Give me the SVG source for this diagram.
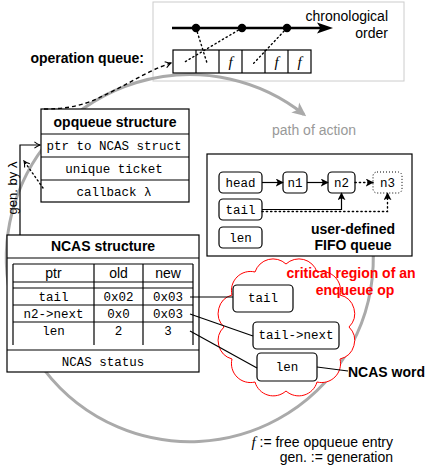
<svg xmlns="http://www.w3.org/2000/svg" width="428" height="471" viewBox="0 0 428 471">
<style>
.sans{font-family:"Liberation Sans",Arial,sans-serif;font-size:14px;fill:#000}
.b{font-weight:bold}
.mono{font-family:"Liberation Mono","DejaVu Sans Mono",monospace;font-size:12.5px;fill:#000}
.box{fill:#fff;stroke:#000;stroke-width:1.2}
.rbox{fill:#fff;stroke:#000;stroke-width:1.2}
.ln{fill:none;stroke:#000;stroke-width:1.2}
.dot{fill:none;stroke:#000;stroke-width:1.4;stroke-dasharray:1.3 3;stroke-linecap:round}
.red{fill:#f00;font-weight:bold}
.mid{text-anchor:middle}
</style>
<defs>
<marker id="tri" viewBox="0 0 10 10" refX="9" refY="5" markerWidth="8" markerHeight="8" markerUnits="userSpaceOnUse" orient="auto">
<path d="M0,0 L10,5 L0,10 L2.5,5 Z" fill="#000"/>
</marker>
<marker id="open" viewBox="0 0 10 10" refX="9" refY="5" markerWidth="8" markerHeight="8" markerUnits="userSpaceOnUse" orient="auto">
<path d="M2,1 Q6,4 9,5 Q6,6 2,9" fill="none" stroke="#000" stroke-width="1.3"/>
</marker>
<marker id="gray" viewBox="0 0 10 10" refX="8" refY="5" markerWidth="14" markerHeight="14" markerUnits="userSpaceOnUse" orient="auto">
<path d="M0,0.5 L10,5 L0,9.5 L2.5,5 Z" fill="#aaa"/>
</marker>
</defs>

<g id="queue-frame">
<rect x="153" y="2" width="251" height="79" fill="#fff" stroke="#ccc" stroke-width="1"/>
</g>

<g id="path-of-action">
<path d="M358.1,185 A183.5,183.5 0 1 1 304,114.5" fill="none" stroke="#aaa" stroke-width="3" marker-end="url(#gray)"/>
<text x="314" y="135" class="sans mid" style="fill:#999">path of action</text>
</g>

<g id="timeline">
<line x1="172" y1="28" x2="322" y2="28" stroke="#000" stroke-width="2.5"/>
<path d="M333,28 L317,22.5 L320.5,28 L317,33.5 Z" fill="#000"/>
<circle cx="196" cy="28" r="4.2" fill="#000"/>
<circle cx="242" cy="28" r="4.2" fill="#000"/>
<circle cx="287" cy="28" r="4.2" fill="#000"/>
<text x="388" y="21" class="sans" text-anchor="end">chronological</text>
<text x="388" y="38" class="sans" text-anchor="end">order</text>
</g>

<g id="operation-queue">
<text x="144" y="63" class="sans b" text-anchor="end">operation queue:</text>
<rect x="173" y="50" width="138" height="23" class="box"/>
<line x1="196" y1="50" x2="196" y2="73" class="ln"/>
<line x1="219" y1="50" x2="219" y2="73" class="ln"/>
<line x1="242" y1="50" x2="242" y2="73" class="ln"/>
<line x1="265" y1="50" x2="265" y2="73" class="ln"/>
<line x1="288" y1="50" x2="288" y2="73" class="ln"/>
<g style="font-family:'Liberation Serif','Times New Roman',serif;font-style:italic;font-size:15px" text-anchor="middle">
<text x="230.5" y="67">f</text>
<text x="276.5" y="67">f</text>
<text x="299.5" y="67">f</text>
</g>
</g>

<g id="opqueue-structure">
<rect x="41" y="109" width="148" height="93" class="box"/>
<line x1="41" y1="134" x2="189" y2="134" class="ln"/>
<line x1="41" y1="157" x2="189" y2="157" class="ln"/>
<line x1="41" y1="180" x2="189" y2="180" class="ln"/>
<text x="115" y="127" class="sans b mid">opqueue structure</text>
<text x="114" y="150" class="mono mid">ptr to NCAS struct</text>
<text x="114" y="173" class="mono mid">unique ticket</text>
<text x="114" y="196" class="mono mid">callback λ</text>
</g>

<g id="gen-label">
<text transform="translate(17,188) rotate(-90)" class="sans mid" style="font-size:13px">gen. by λ</text>
</g>

<g id="fifo-queue">
<rect x="207" y="154" width="205" height="102" class="box"/>
<rect x="219" y="172" width="43" height="21" rx="4" class="rbox"/>
<text x="240.5" y="187" class="mono mid">head</text>
<rect x="283" y="172" width="24" height="21" rx="4" class="rbox"/>
<text x="295" y="187" class="mono mid">n1</text>
<rect x="328" y="172" width="27" height="21" rx="4" class="rbox"/>
<text x="341.5" y="187" class="mono mid">n2</text>
<rect x="373" y="172" width="29" height="21" rx="4" fill="#fff" stroke="#000" stroke-width="1" stroke-dasharray="1 2"/>
<text x="387.5" y="187" class="mono mid">n3</text>
<rect x="219" y="199" width="43" height="21" rx="4" class="rbox"/>
<text x="240.5" y="214" class="mono mid">tail</text>
<rect x="219" y="227" width="43" height="21" rx="4" class="rbox"/>
<text x="240.5" y="242" class="mono mid">len</text>
<text x="353" y="234" class="sans b mid">user-defined</text>
<text x="353" y="250" class="sans b mid">FIFO queue</text>
</g>

<g id="ncas-structure">
<rect x="7" y="235" width="192" height="137" class="box"/>
<line x1="7" y1="258" x2="199" y2="258" class="ln"/>
<text x="103" y="251" class="sans b mid">NCAS structure</text>
<line x1="13" y1="264" x2="193" y2="264" class="ln"/>
<line x1="13" y1="282" x2="193" y2="282" class="ln"/>
<line x1="13" y1="288" x2="193" y2="288" class="ln"/>
<line x1="13" y1="305" x2="193" y2="305" class="ln"/>
<line x1="13" y1="322" x2="193" y2="322" class="ln"/>
<line x1="13" y1="264" x2="13" y2="345" class="ln"/>
<line x1="94" y1="264" x2="94" y2="345" class="ln"/>
<line x1="143" y1="264" x2="143" y2="345" class="ln"/>
<line x1="193" y1="264" x2="193" y2="345" class="ln"/>
<line x1="7" y1="350" x2="199" y2="350" class="ln"/>
<text x="53.5" y="278" class="sans mid">ptr</text>
<text x="118.5" y="278" class="sans mid">old</text>
<text x="168" y="278" class="sans mid">new</text>
<text x="53.5" y="301" class="mono mid">tail</text>
<text x="118.5" y="301" class="mono mid">0x02</text>
<text x="168" y="301" class="mono mid">0x03</text>
<text x="53.5" y="318" class="mono mid">n2-&gt;next</text>
<text x="118.5" y="318" class="mono mid">0x0</text>
<text x="168" y="318" class="mono mid">0x03</text>
<text x="53.5" y="335" class="mono mid">len</text>
<text x="118.5" y="335" class="mono mid">2</text>
<text x="168" y="335" class="mono mid">3</text>
<text x="103" y="366" class="mono mid">NCAS status</text>
</g>

<g id="critical-region">
<path d="M349,327 A19,19 0 0 1 340,359 A19,19 0 0 1 317,382 A19,19 0 0 1 286,391 A19,19 0 0 1 255,382 A19,19 0 0 1 232,359 A19,19 0 0 1 224,327 A19,19 0 0 1 232,295 A19,19 0 0 1 255,272 A19,19 0 0 1 286,264 A19,19 0 0 1 317,272 A19,19 0 0 1 340,295 A19,19 0 0 1 349,327 Z" fill="#fff" stroke="#f00" stroke-width="1"/>
<text x="351" y="278" class="sans red mid">critical region of an</text>
<text x="355" y="295" class="sans red mid">enqueue op</text>
</g>

<g id="word-tail">
<rect x="233" y="285" width="60" height="27" rx="4" class="rbox"/>
<text x="263" y="302" class="mono mid">tail</text>
</g>
<g id="word-tailnext">
<rect x="253" y="322" width="86" height="27" rx="4" class="rbox"/>
<text x="296" y="339" class="mono mid">tail-&gt;next</text>
</g>
<g id="word-len">
<rect x="257" y="353" width="60" height="28" rx="4" class="rbox"/>
<text x="287" y="371" class="mono mid">len</text>
</g>
<g id="ncas-word-label">
<text x="348" y="377" class="sans b">NCAS word</text>
</g>

<g id="legend">
<text x="393" y="447" class="sans" text-anchor="end"><tspan style="font-family:'Liberation Serif',serif;font-style:italic;font-size:15px">f</tspan> := free opqueue entry</text>
<text x="393" y="462" class="sans" text-anchor="end">gen. := generation</text>
</g>

<g id="connectors">
<line x1="196" y1="28" x2="207" y2="63" class="dot"/>
<line x1="242" y1="28" x2="183" y2="63" class="dot"/>
<line x1="287" y1="28" x2="253" y2="64" class="dot"/>
<path d="M44,109 C80,109 95,100 115,90 C135,80 150,70 171,63" fill="none" stroke="#000" stroke-width="1.4" stroke-dasharray="4 3" marker-end="url(#open)"/>
<path d="M20,235 L20,145 L40,145" class="ln" marker-end="url(#open)"/>
<line x1="43" y1="188" x2="24" y2="161" class="dot" marker-end="url(#open)"/>
<line x1="262" y1="182.5" x2="283" y2="182.5" class="ln" marker-end="url(#tri)"/>
<line x1="307" y1="182.5" x2="328" y2="182.5" class="ln" marker-end="url(#tri)"/>
<line x1="355" y1="182.5" x2="373" y2="182.5" class="dot" marker-end="url(#tri)"/>
<path d="M262,209.5 L341.5,209.5 L341.5,193" class="ln" marker-end="url(#tri)"/>
<path d="M262,211.5 L387.5,211.5 L387.5,193" class="dot" marker-end="url(#tri)"/>
<line x1="190" y1="297" x2="233" y2="297" class="ln"/>
<line x1="190" y1="314" x2="253" y2="336" class="ln"/>
<line x1="190" y1="331" x2="257" y2="368" class="ln"/>
<line x1="317" y1="367" x2="348" y2="371" class="ln"/>
</g>
</svg>
